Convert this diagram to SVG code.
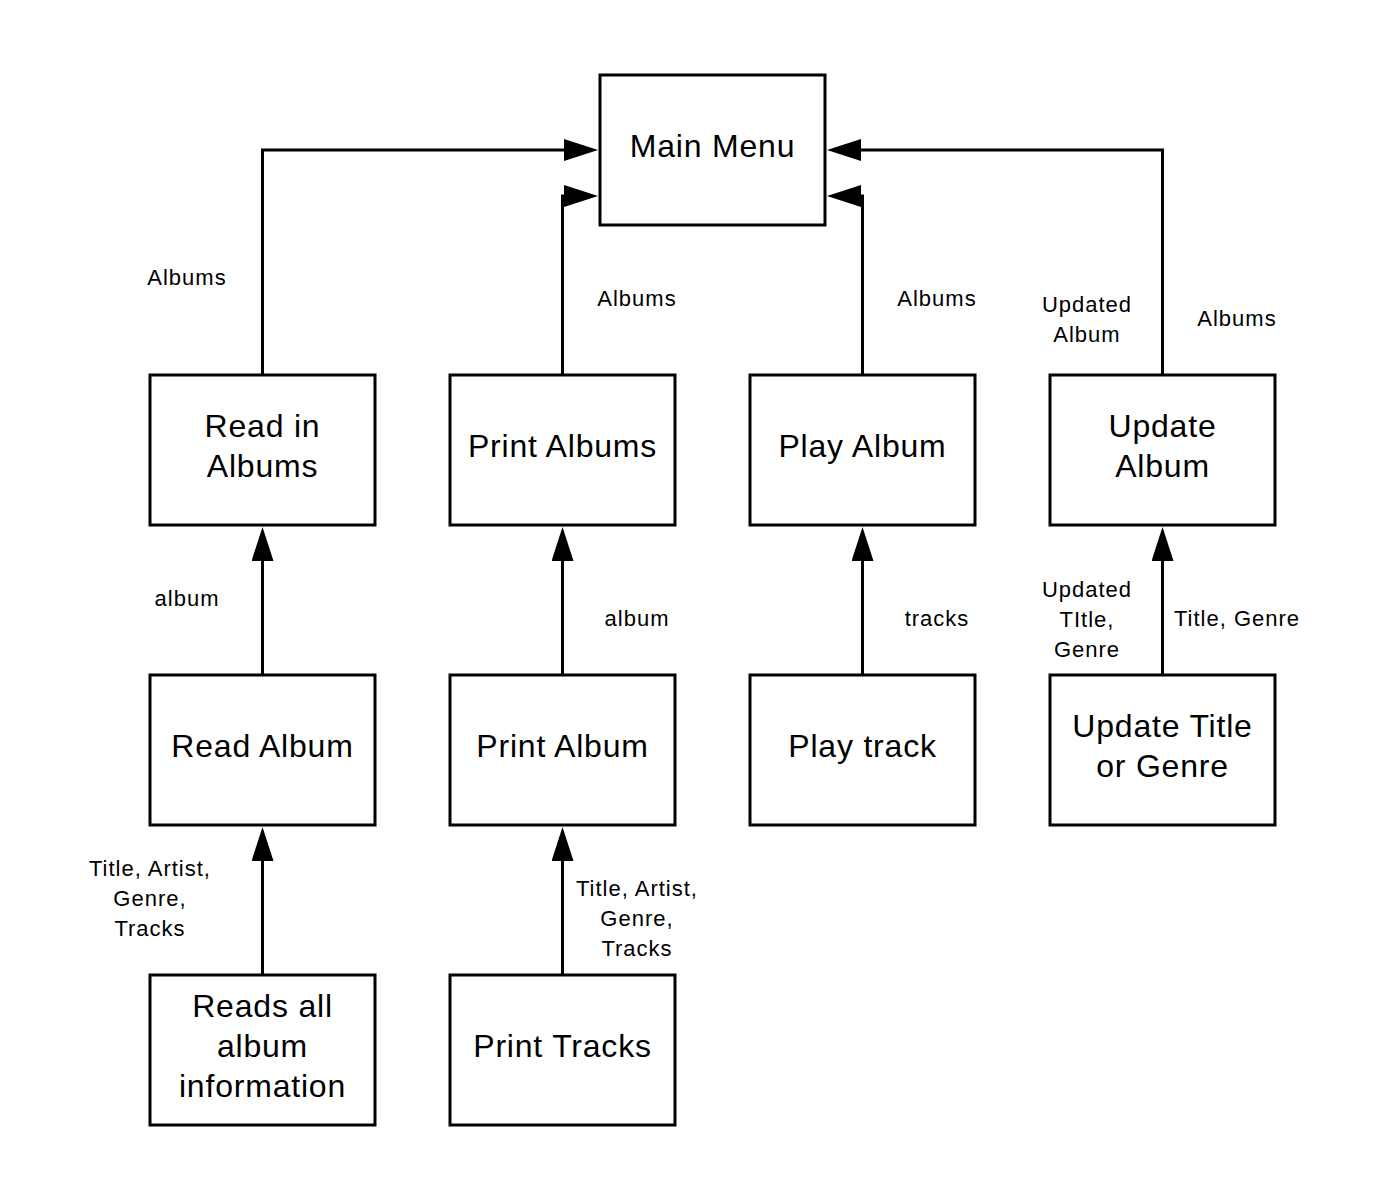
<svg xmlns="http://www.w3.org/2000/svg" width="1388" height="1200" viewBox="0 0 1388 1200">
<style>
.box{fill:#fff;stroke:#000;stroke-width:3}
.edge{fill:none;stroke:#000;stroke-width:3}
.nt{font-family:"Liberation Sans",Arial,sans-serif;font-size:32px;text-anchor:middle;fill:#000;letter-spacing:0.8px}
.lb{font-family:"Liberation Sans",Arial,sans-serif;font-size:22px;text-anchor:middle;fill:#000;letter-spacing:1px}
</style>
<defs>
<marker id="arr" markerUnits="userSpaceOnUse" markerWidth="34" markerHeight="22" refX="24" refY="11" orient="auto" viewBox="0 0 34 22">
<path d="M0,0 L34,11 L0,22 Z" fill="#000"/>
</marker>
</defs>
<rect width="1388" height="1200" fill="#fff"/>
<g id="connectors">
<path class="edge" d="M262.5,375 V150 H588" marker-end="url(#arr)"/>
<path class="edge" d="M562.5,375 V196 H588" marker-end="url(#arr)"/>
<path class="edge" d="M862.5,375 V196 H837" marker-end="url(#arr)"/>
<path class="edge" d="M1162.5,375 V150 H837" marker-end="url(#arr)"/>
<path class="edge" d="M262.5,675 V537" marker-end="url(#arr)"/>
<path class="edge" d="M562.5,675 V537" marker-end="url(#arr)"/>
<path class="edge" d="M862.5,675 V537" marker-end="url(#arr)"/>
<path class="edge" d="M1162.5,675 V537" marker-end="url(#arr)"/>
<path class="edge" d="M262.5,975 V837" marker-end="url(#arr)"/>
<path class="edge" d="M562.5,975 V837" marker-end="url(#arr)"/>
<text class="lb" x="187" y="285">Albums</text>
<text class="lb" x="637" y="306">Albums</text>
<text class="lb" x="937" y="306">Albums</text>
<text class="lb" x="1087" y="312">Updated</text>
<text class="lb" x="1087" y="342">Album</text>
<text class="lb" x="1237" y="326">Albums</text>
<text class="lb" x="187" y="606">album</text>
<text class="lb" x="637" y="626">album</text>
<text class="lb" x="937" y="626">tracks</text>
<text class="lb" x="1087" y="597">Updated</text>
<text class="lb" x="1087" y="627">TItle,</text>
<text class="lb" x="1087" y="657">Genre</text>
<text class="lb" x="1237" y="626">Title, Genre</text>
<text class="lb" x="150" y="876">Title, Artist,</text>
<text class="lb" x="150" y="906">Genre,</text>
<text class="lb" x="150" y="936">Tracks</text>
<text class="lb" x="637" y="896">Title, Artist,</text>
<text class="lb" x="637" y="926">Genre,</text>
<text class="lb" x="637" y="956">Tracks</text>
</g>
<g id="main-menu"><rect class="box" x="600" y="75" width="225" height="150"/><text class="nt" x="712.5" y="157">Main Menu</text></g>
<g id="read-in-albums"><rect class="box" x="150" y="375" width="225" height="150"/><text class="nt" x="262.5" y="437">Read in</text><text class="nt" x="262.5" y="477">Albums</text></g>
<g id="print-albums"><rect class="box" x="450" y="375" width="225" height="150"/><text class="nt" x="562.5" y="457">Print Albums</text></g>
<g id="play-album"><rect class="box" x="750" y="375" width="225" height="150"/><text class="nt" x="862.5" y="457">Play Album</text></g>
<g id="update-album"><rect class="box" x="1050" y="375" width="225" height="150"/><text class="nt" x="1162.5" y="437">Update</text><text class="nt" x="1162.5" y="477">Album</text></g>
<g id="read-album"><rect class="box" x="150" y="675" width="225" height="150"/><text class="nt" x="262.5" y="757">Read Album</text></g>
<g id="print-album"><rect class="box" x="450" y="675" width="225" height="150"/><text class="nt" x="562.5" y="757">Print Album</text></g>
<g id="play-track"><rect class="box" x="750" y="675" width="225" height="150"/><text class="nt" x="862.5" y="757">Play track</text></g>
<g id="update-title-genre"><rect class="box" x="1050" y="675" width="225" height="150"/><text class="nt" x="1162.5" y="737">Update Title</text><text class="nt" x="1162.5" y="777">or Genre</text></g>
<g id="reads-all"><rect class="box" x="150" y="975" width="225" height="150"/><text class="nt" x="262.5" y="1017">Reads all</text><text class="nt" x="262.5" y="1057">album</text><text class="nt" x="262.5" y="1097">information</text></g>
<g id="print-tracks"><rect class="box" x="450" y="975" width="225" height="150"/><text class="nt" x="562.5" y="1057">Print Tracks</text></g>
</svg>
